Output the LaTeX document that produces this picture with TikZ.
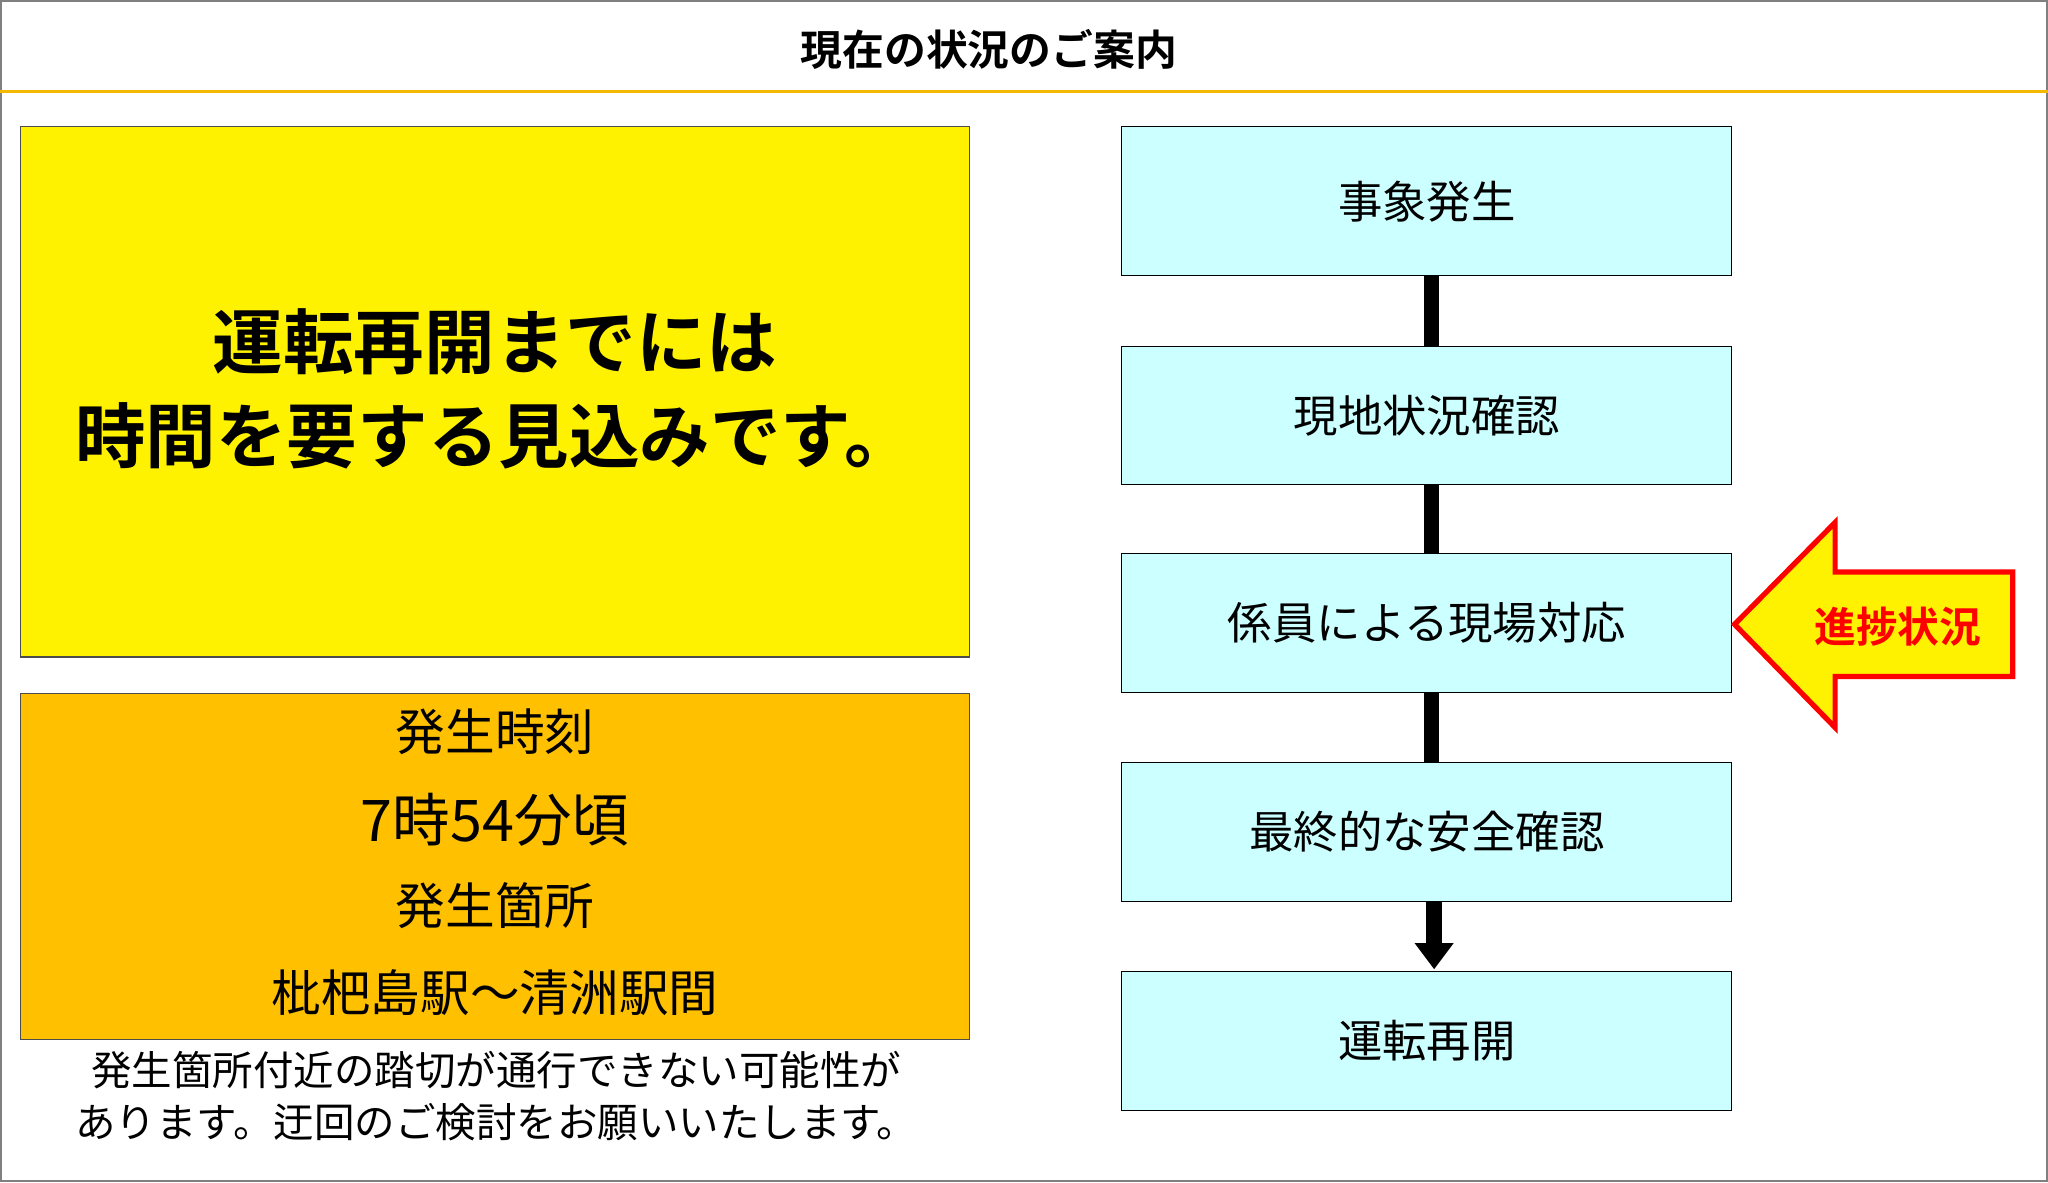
\documentclass[tikz,border=0pt]{standalone}
\usepackage{fontspec}
\setmainfont{Noto Sans CJK JP}[BoldFont={Noto Sans CJK JP Bold}]
\definecolor{flowc}{HTML}{CCFFFF}
\definecolor{orgc}{HTML}{FFC000}
\definecolor{linec}{HTML}{F5B800}
\begin{document}
\begin{tikzpicture}[x=0.5pt,y=-0.5pt,
  flow/.style={draw=black,fill=flowc,minimum width=233.5pt,inner sep=0pt,font=\fontsize{17}{20}\selectfont},
  conn/.style={line width=6pt,draw=black}]
\useasboundingbox (0,0) rectangle (1568,905);
\draw[gray,line width=0.8pt] (0.5,0.5) rectangle (1567.5,904.5);
\node[font=\fontsize{16}{19}\selectfont\bfseries] (title) at (757,38) {現在の状況のご案内};
\draw[linec,line width=1pt] (0,70) -- (1568,70);
% yellow box
\draw[fill=yellow,draw=black!70] (16,97) rectangle (742,503);
\node[font=\fontsize{27}{36}\selectfont\bfseries,align=center] (msg) at (379,298) {運転再開までには\\時間を要する見込みです。};
% orange box
\draw[fill=orgc,draw=black!70] (16,531) rectangle (742,796);
\node[font=\fontsize{19}{22}\selectfont] (t1) at (379,560) {発生時刻};
\node[font=\fontsize{22}{26}\selectfont] (t2) at (379,628) {7時54分頃};
\node[font=\fontsize{19}{22}\selectfont] (t3) at (379,693) {発生箇所};
\node[font=\fontsize{19}{22}\selectfont] (t4) at (379,760) {枇杷島駅～清洲駅間};
\node[font=\fontsize{15.5}{20}\selectfont,align=center] (note) at (380,839) {発生箇所付近の踏切が通行できない可能性が\\あります。迂回のご検討をお願いいたします。};
% flow
\node[flow,minimum height=57pt] (f1) at (1092.5,154) {事象発生};
\node[flow,minimum height=53pt] (f2) at (1092.5,318) {現地状況確認};
\node[flow,minimum height=53pt] (f3) at (1092.5,477) {係員による現場対応};
\node[flow,minimum height=53pt] (f4) at (1092.5,637) {最終的な安全確認};
\node[flow,minimum height=53pt] (f5) at (1092.5,797) {運転再開};
\draw[conn] (f1.south -| 1096,0) -- (f2.north -| 1096,0);
\draw[conn] (f2.south -| 1096,0) -- (f3.north -| 1096,0);
\draw[conn] (f3.south -| 1096,0) -- (f4.north -| 1096,0);
\draw[line width=6pt] (1098,690) -- (1098,724);
\fill (1083,722) -- (1113,722) -- (1098,742) -- cycle;
% big arrow
\draw[draw=red,fill=yellow,line width=2pt,line join=miter]
  (1328,478) -- (1405,400) -- (1405,438) -- (1541,438) -- (1541,518) -- (1405,518) -- (1405,557) -- cycle;
\node[text=red,font=\fontsize{16}{19}\selectfont\bfseries] (prog) at (1453,480) {進捗状況};
\end{tikzpicture}
\end{document}
